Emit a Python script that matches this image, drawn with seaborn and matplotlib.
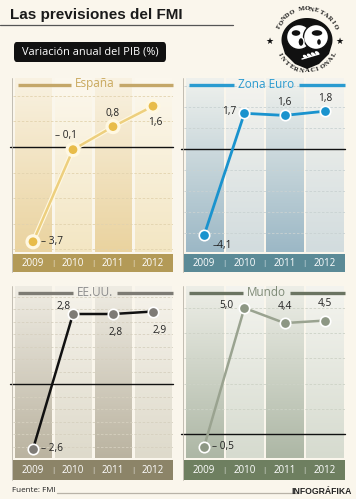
import numpy as np
import pandas as pd
import matplotlib
matplotlib.use("Agg")
import matplotlib.pyplot as plt
import seaborn as sns
from matplotlib.colors import LinearSegmentedColormap
from matplotlib.patches import FancyBboxPatch, Circle, Ellipse, Polygon
from matplotlib.lines import Line2D
import matplotlib.patheffects as pe

# ---------------- data ----------------
years = ["2009", "2010", "2011", "2012"]
espana = [-3.7, -0.1, 0.8, 1.6]
zona_euro = [-4.1, 1.7, 1.6, 1.8]
eeuu = [-2.6, 2.8, 2.8, 2.9]
mundo = [-0.5, 5.0, 4.4, 4.5]
titles = ["España", "Zona Euro", "EE.UU.", "Mundo"]

sns.set_theme(style="white")
plt.rcParams["font.family"] = ["Open Sans", "DejaVu Sans"]

W, H = 356, 499
BG = "#FAF6EC"
fig = plt.figure(figsize=(W / 100, H / 100), dpi=100)
fig.patch.set_facecolor(BG)


def add_axes(x0, y0, x1, y1):
    return fig.add_axes([x0 / W, 1 - y1 / H, (x1 - x0) / W, (y1 - y0) / H])


def fx(x):
    return x / W


def fy(y):
    return 1 - y / H


def fmt(v, space=True):
    s = f"{abs(v):.1f}".replace(".", ",")
    if v < 0:
        return ("\u2013 " if space else "\u2013") + s
    return s


panels = [
    dict(vals=espana, title=titles[0], x=(13, 173), y=(78, 252), band=(254, 272), tity=84,
         ylim=(-4.10, 2.70), grid=1.0,
         line="#EDCF7E", mfc="#E8BC4A", mec="#FFF8E2", lineout="#FFF8E2", lw=1.8,
         dark=("#EAD39F", "#F9F2E2"), light=("#F3E6C3", "#FCF8EE"), gridc="#E2D3AE",
         band_c="#B39A57", tcol="#C9A85C", tline="#C4A769",
         offs=[(8, 0, "left"), (-7, 14, "center"), (0, 13, "center"), (2, -16, "center")], space=True),
    dict(vals=zona_euro, title=titles[1], x=(184, 345), y=(78, 252), band=(254, 272), tity=84,
         ylim=(-4.90, 3.38), grid=1.0,
         line="#1A93CE", mfc="#1A93CE", mec="#FFFFFF", lineout=None, lw=2.0,
         dark=("#9CB8C6", "#EFF1ED"), light=("#D2DCDE", "#F5F4EF"), gridc="#C9D2D2",
         band_c="#5B8A96", tcol="#2A9BD0", tline="#2A9BD0",
         offs=[(8, -10, "left"), (-15, 2, "center"), (0, 13, "center"), (0, 13, "center")], space=False),
    dict(vals=eeuu, title=titles[2], x=(13, 173), y=(286, 458), band=(460, 480), tity=292,
         ylim=(-2.96, 3.92), grid=0.5,
         line="#111111", mfc="#7E7B76", mec="#FFFFFF", lineout=None, lw=1.8,
         dark=("#BAB3A0", "#EFECE3"), light=("#DEDACB", "#F6F3EB"), gridc="#D6D0BF",
         band_c="#8C8468", tcol="#8C8C8C", tline="#7D7B74",
         offs=[(8, 0, "left"), (-9, 8, "center"), (3, -19, "center"), (7, -19, "center")], space=True),
    dict(vals=mundo, title=titles[3], x=(184, 345), y=(286, 458), band=(460, 480), tity=292,
         ylim=(-0.95, 5.87), grid=1.0,
         line="#9AA390", mfc="#8D9784", mec="#FFFFFF", lineout=None, lw=1.8,
         dark=("#ADB7A5", "#EDEEE7"), light=("#D6DBCF", "#F4F4EF"), gridc="#CDD2C6",
         band_c="#6E7F60", tcol="#7E8A76", tline="#6B7462",
         offs=[(8, 0, "left"), (-18, 2, "center"), (0, 17, "center"), (0, 17, "center")], space=True),
]

renderer = fig.canvas.get_renderer()
grad = np.linspace(0, 1, 200).reshape(-1, 1)

for p in panels:
    x0, x1 = p["x"]
    y0, y1 = p["y"]
    ax = add_axes(x0, y0, x1, y1)
    ax.set_facecolor(BG)
    lo, hi = p["ylim"]
    for i in range(len(years)):
        cols = p["dark"] if i % 2 == 0 else p["light"]
        cm = LinearSegmentedColormap.from_list("c", [cols[0], cols[1]])
        ax.imshow(grad, extent=(i - 0.46, i + 0.46, lo, hi), origin="lower",
                  aspect="auto", cmap=cm, zorder=0, interpolation="bilinear")
    g = p["grid"]
    k = np.arange(np.ceil(lo / g), np.floor(hi / g) + 1) * g
    for yv in k:
        if abs(yv) < 1e-9:
            continue
        ax.axhline(yv, color=p["gridc"], lw=0.6, ls=(0, (3, 2)), zorder=1)
    ax.axhline(0, color="#111111", lw=1.0, zorder=2, xmin=-0.02, clip_on=False)

    df = pd.DataFrame({"pos": np.arange(len(years)), "valor": p["vals"]})
    sns.lineplot(data=df, x="pos", y="valor", ax=ax, color=p["line"], lw=p["lw"],
                 marker="o", markersize=7.5, markerfacecolor=p["mfc"],
                 markeredgecolor=p["mec"], markeredgewidth=1.2, zorder=4)
    ln = ax.lines[-1]
    if p["lineout"]:
        ln.set_path_effects([pe.Stroke(linewidth=p["lw"] + 1.6, foreground=p["lineout"]), pe.Normal()])

    for i, v in enumerate(p["vals"]):
        dx, dy, ha = p["offs"][i]
        ax.annotate(fmt(v, p["space"]), (i, v), xytext=(dx, dy), textcoords="offset pixels",
                    ha=ha, va="center", fontsize=7.3, color="#222222", zorder=6)

    ax.set_xlim(-0.5, len(years) - 0.5)
    ax.set_ylim(lo, hi)
    ax.set_xlabel("")
    ax.set_ylabel("")
    ax.set_xticks([])
    ax.set_yticks([])
    for s in ax.spines.values():
        s.set_visible(False)

    fig.add_artist(Line2D([fx(x0 - 1), fx(x0 - 1)], [fy(y0), fy(p["band"][1])],
                          color="#B9B4A8", lw=0.6))

    bx = add_axes(x0, p["band"][0], x1, p["band"][1])
    bx.set_facecolor(p["band_c"])
    bx.set_xlim(-0.5, len(years) - 0.5)
    bx.set_ylim(0, 1)
    bx.set_xticks([])
    bx.set_yticks([])
    for s in bx.spines.values():
        s.set_visible(False)
    for i, yr in enumerate(years):
        bx.text(i, 0.47, yr, ha="center", va="center", color="#FFFFFF", fontsize=7)
        if i < len(years) - 1:
            bx.text(i + 0.5, 0.47, "|", ha="center", va="center", color="#FFFFFF",
                    fontsize=5.5, alpha=0.85)

    cx = (x0 + x1) / 2 + 2
    t = fig.text(fx(cx), fy(p["tity"]), p["title"], ha="center", va="center",
                 fontsize=8.5, color=p["tcol"], zorder=10)
    bb = t.get_window_extent(renderer=renderer)
    tl, tr = bb.x0 * W / fig.bbox.width, bb.x1 * W / fig.bbox.width
    yl = fy(p["tity"] + 1)
    fig.add_artist(Line2D([fx(x0 + 5), fx(tl - 4)], [yl, yl], color=p["tline"], lw=2.4,
                          solid_capstyle="butt"))
    fig.add_artist(Line2D([fx(tr + 4), fx(x1)], [yl, yl], color=p["tline"], lw=2.4,
                          solid_capstyle="butt"))

# ---------------- header ----------------
fig.text(fx(10), fy(15), "Las previsiones del FMI", fontsize=11, fontweight="bold",
         family=["Liberation Sans", "DejaVu Sans"], color="#1A1A1A", va="center", ha="left")
fig.add_artist(Line2D([0, fx(233)], [fy(25), fy(25)], color="#555555", lw=0.9))
box = FancyBboxPatch((fx(14), fy(62)), fx(152), (20 / H), boxstyle="round,pad=0,rounding_size=0.008",
                     transform=fig.transFigure, facecolor="#111111", edgecolor="none")
fig.add_artist(box)
fig.text(fx(90), fy(52.5), "Variación anual del PIB (%)", color="#FFFFFF", fontsize=7.9,
         ha="center", va="center")

# IMF logo (approximation), drawn in pixel coordinates
lax = add_axes(258, 0, 356, 80)
lax.set_xlim(258, 356)
lax.set_ylim(80, 0)
lax.axis("off")
cxl, cyl = 307, 40
arc_a = np.radians(np.linspace(190, -10, 50))
pts = [(cxl + 25.5 * np.cos(a), cyl - 22 * np.sin(a)) for a in arc_a]
pts += [(cxl + 22, cyl + 14), (cxl + 12, cyl + 24), (cxl, cyl + 29),
        (cxl - 12, cyl + 24), (cxl - 22, cyl + 14)]
lax.add_patch(Polygon(pts, closed=True, facecolor="#111111", edgecolor="none"))
lax.add_patch(Circle((cxl - 8, cyl - 3), 12.5, facecolor="#FFFFFF", edgecolor="#111111", lw=1.0))
lax.add_patch(Circle((cxl + 9, cyl - 3), 12.5, facecolor="#FFFFFF", edgecolor="#111111", lw=1.0))
lax.add_patch(Ellipse((cxl - 11, cyl - 7), 10, 7, facecolor="#111111"))
lax.add_patch(Ellipse((cxl - 6, cyl + 2), 6, 9, facecolor="#111111"))
lax.add_patch(Ellipse((cxl + 10, cyl - 7), 12, 7, facecolor="#111111"))
lax.add_patch(Ellipse((cxl + 12, cyl + 2), 5, 7, facecolor="#111111"))
lax.plot([cxl - 5, cxl + 12], [cyl + 19, cyl + 14], color="#FFFFFF", lw=1.0)
for j in range(4):
    lax.add_patch(Ellipse((cxl - 2 + 4 * j, cyl + 16.5 - 1.2 * j), 3.2, 1.6, angle=30,
                          facecolor="#FFFFFF"))
lax.text(269, 41, "\u2605", ha="center", va="center", fontsize=6.5, color="#111111",
         family=["DejaVu Sans"])
lax.text(339, 41, "\u2605", ha="center", va="center", fontsize=6.5, color="#111111",
         family=["DejaVu Sans"])


def arc_text(s, r, a0, a1, top=True):
    angs = np.linspace(a0, a1, len(s))
    for ch, a in zip(s, angs):
        xx = cxl + r * np.cos(np.radians(a))
        yy = cyl - r * np.sin(np.radians(a))
        rot = a - 90 if top else a + 90
        lax.text(xx, yy, ch, ha="center", va="center", rotation=rot, fontsize=4.8,
                 fontweight="bold", family=["Liberation Serif", "DejaVu Serif"], color="#111111")


arc_text("FONDO MONETARIO", 31, 155, 25, top=True)
arc_text("INTERNACIONAL", 31, 208, 332, top=False)

# ---------------- footer ----------------
fig.text(fx(12), fy(491), "Fuente: FMI", fontsize=5.8, color="#222222", va="center", ha="left")
fig.add_artist(Line2D([fx(57), fx(298)], [fy(493), fy(493)], color="#B8B3A8", lw=0.9))
fig.text(fx(352), fy(491), "INFOGRÁFIKA", fontsize=6.2, fontweight="bold",
         family=["Liberation Sans", "DejaVu Sans"], color="#222222", va="center", ha="right")

fig.savefig("out.png", dpi=100, facecolor=fig.get_facecolor())
